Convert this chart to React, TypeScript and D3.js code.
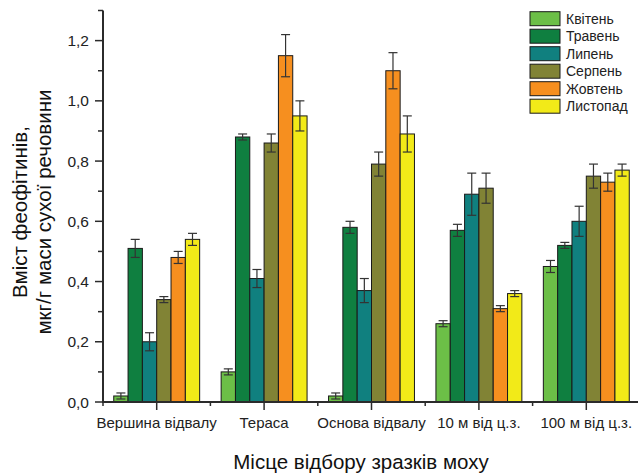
import React from "react";
import * as d3 from "d3";

const categories = ["Вершина відвалу", "Тераса", "Основа відвалу", "10 м від ц.з.", "100 м від ц.з."];
const months = ["Квітень", "Травень", "Липень", "Серпень", "Жовтень", "Листопад"];
const colors = ["#6cbf47", "#0f7f40", "#10807f", "#818335", "#f68f1f", "#f2ea18"];

// values per month, one entry per category
const kviten = [0.02, 0.1, 0.02, 0.26, 0.45];
const traven = [0.51, 0.88, 0.58, 0.57, 0.52];
const lypen = [0.2, 0.41, 0.37, 0.69, 0.6];
const serpen = [0.34, 0.86, 0.79, 0.71, 0.75];
const zhovten = [0.48, 1.15, 1.1, 0.31, 0.73];
const lystopad = [0.54, 0.95, 0.89, 0.36, 0.77];

// error bar half-widths
const kvitenErr = [0.01, 0.01, 0.01, 0.01, 0.02];
const travenErr = [0.03, 0.01, 0.02, 0.02, 0.01];
const lypenErr = [0.03, 0.03, 0.04, 0.07, 0.05];
const serpenErr = [0.01, 0.03, 0.04, 0.05, 0.04];
const zhovtenErr = [0.02, 0.07, 0.06, 0.01, 0.03];
const lystopadErr = [0.02, 0.05, 0.06, 0.01, 0.02];

const yTicks = [0, 0.2, 0.4, 0.6, 0.8, 1.0, 1.2];
const yMinorTicks = [0.1, 0.3, 0.5, 0.7, 0.9, 1.1, 1.3];

const series = [kviten, traven, lypen, serpen, zhovten, lystopad];
const errors = [kvitenErr, travenErr, lypenErr, serpenErr, zhovtenErr, lystopadErr];

export default function App() {
  const width = 638;
  const height = 475;
  const left = 103;
  const right = 640;
  const bottom = 402;
  const top = 10.5;

  const x0 = d3.scaleBand().domain(categories).range([left, right]).paddingInner(0.2).paddingOuter(0.1);
  const x1 = d3.scaleBand().domain(months).range([0, x0.bandwidth()]);
  const y = d3.scaleLinear().domain([0, 1.3]).range([bottom, top]);

  const step = x0.step();
  const bounds = d3.range(0, categories.length + 1).map((i) => left + i * step);
  const font = "'Liberation Sans', Arial, sans-serif";
  const axisColor = "#2b2b2b";

  return (
    <svg width={width} height={height} style={{ position: "absolute", left: 0, top: 0 }} fontFamily={font}>
      <rect width={width} height={height} fill="#fff" />
      {/* bars */}
      {categories.map((c, ci) =>
        months.map((m, mi) => {
          const v = series[mi][ci];
          const e = errors[mi][ci];
          const bx = (x0(c) as number) + (x1(m) as number);
          const bw = x1.bandwidth();
          const cx = bx + bw / 2;
          return (
            <g key={c + m}>
              <rect x={bx} y={y(v)} width={bw} height={bottom - y(v)} fill={colors[mi]} stroke="#1a1a1a" strokeWidth={1} />
              <line x1={cx} x2={cx} y1={y(v + e)} y2={y(v - e)} stroke="#333" strokeWidth={1.2} />
              <line x1={cx - 4.5} x2={cx + 4.5} y1={y(v + e)} y2={y(v + e)} stroke="#333" strokeWidth={1.2} />
              <line x1={cx - 4.5} x2={cx + 4.5} y1={y(v - e)} y2={y(v - e)} stroke="#333" strokeWidth={1.2} />
            </g>
          );
        })
      )}

      {/* y axis */}
      <line x1={left} x2={left} y1={top} y2={bottom + 1} stroke={axisColor} strokeWidth={2} />
      {yMinorTicks.map((t) => (
        <line key={t} x1={left - 5} x2={left} y1={y(t)} y2={y(t)} stroke={axisColor} strokeWidth={1.5} />
      ))}
      {yTicks.map((t) => (
        <g key={t}>
          <line x1={left - 8} x2={left} y1={y(t)} y2={y(t)} stroke={axisColor} strokeWidth={1.5} />
          <text x={89} y={y(t) + 5.5} textAnchor="end" fontSize={15.5} fill="#222">
            {d3.format(".1f")(t).replace(".", ",")}
          </text>
        </g>
      ))}

      {/* x axis */}
      <line x1={left - 1} x2={right} y1={bottom} y2={bottom} stroke={axisColor} strokeWidth={2} />
      {bounds.map((b, i) => (
        <line key={"b" + i} x1={b} x2={b} y1={bottom} y2={bottom + 4} stroke={axisColor} strokeWidth={1.5} />
      ))}
      {categories.map((c) => {
        const cx = (x0(c) as number) + x0.bandwidth() / 2;
        return (
          <g key={c}>
            <line x1={cx} x2={cx} y1={bottom} y2={bottom + 8} stroke={axisColor} strokeWidth={1.5} />
            <text x={cx} y={428} textAnchor="middle" fontSize={15} fill="#222">
              {c}
            </text>
          </g>
        );
      })}

      {/* axis titles */}
      <text x={361} y={469} textAnchor="middle" fontSize={20.5} fill="#111">
        Місце відбору зразків моху
      </text>
      <text transform="translate(27,212) rotate(-90)" textAnchor="middle" fontSize={20.5} fill="#111">
        Вміст феофітинів,
      </text>
      <text transform="translate(51,212) rotate(-90)" textAnchor="middle" fontSize={20.5} fill="#111">
        мкг/г маси сухої речовини
      </text>

      {/* legend */}
      {months.map((m, i) => (
        <g key={m} transform={`translate(530,${11.7 + i * 17.5})`}>
          <rect width={30} height={14} fill={colors[i]} stroke="#1a1a1a" strokeWidth={1} />
          <text x={36} y={12} fontSize={14} fill="#222">
            {m}
          </text>
        </g>
      ))}
    </svg>
  );
}
